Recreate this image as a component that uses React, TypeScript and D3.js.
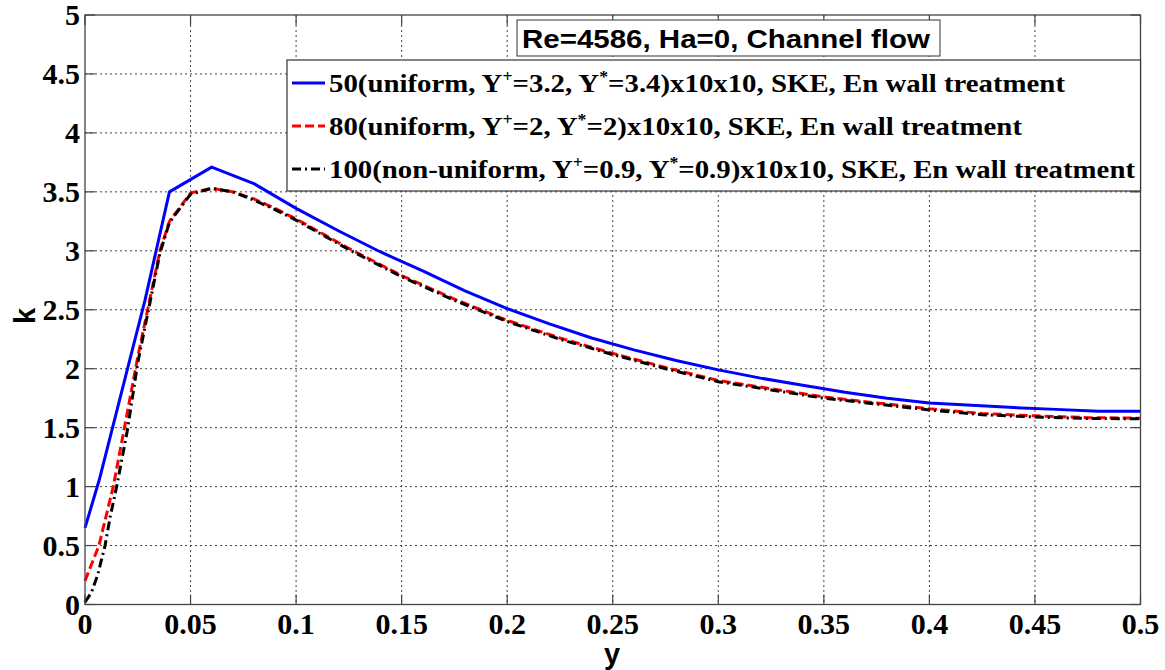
import React from "react";
import * as d3 from "d3";

const xTicks = [0, 0.05, 0.1, 0.15, 0.2, 0.25, 0.3, 0.35, 0.4, 0.45, 0.5];
const yTicks = [0, 0.5, 1, 1.5, 2, 2.5, 3, 3.5, 4, 4.5, 5];
const xTickLabels = ["0", "0.05", "0.1", "0.15", "0.2", "0.25", "0.3", "0.35", "0.4", "0.45", "0.5"];
const yTickLabels = ["0", "0.5", "1", "1.5", "2", "2.5", "3", "3.5", "4", "4.5", "5"];

const blueX = [0, 0.0068, 0.02, 0.0284, 0.04, 0.06, 0.08, 0.1, 0.12, 0.14, 0.16, 0.18, 0.2, 0.22, 0.24, 0.26, 0.28, 0.3, 0.32, 0.34, 0.36, 0.38, 0.4, 0.42, 0.44, 0.46, 0.48, 0.5];
const blueK = [0.65, 1.06, 1.99, 2.58, 3.5, 3.71, 3.57, 3.36, 3.17, 2.99, 2.83, 2.66, 2.51, 2.38, 2.26, 2.16, 2.07, 1.99, 1.92, 1.86, 1.8, 1.75, 1.71, 1.69, 1.67, 1.655, 1.64, 1.64];

const redX = [0, 0.0066, 0.0134, 0.025, 0.0355, 0.04, 0.05, 0.06, 0.07, 0.08, 0.09, 0.1, 0.125, 0.15, 0.175, 0.2, 0.225, 0.25, 0.275, 0.3, 0.325, 0.35, 0.375, 0.4, 0.425, 0.45, 0.475, 0.5];
const redK = [0.2, 0.5, 1.0, 2.1, 3.0, 3.25, 3.49, 3.53, 3.5, 3.44, 3.36, 3.27, 3.02, 2.79, 2.59, 2.41, 2.26, 2.13, 2.01, 1.9, 1.83, 1.76, 1.71, 1.66, 1.62, 1.6, 1.585, 1.58];

const blackX = [0, 0.003, 0.006, 0.0095, 0.012, 0.015, 0.02, 0.025, 0.0355, 0.04, 0.05, 0.06, 0.07, 0.08, 0.09, 0.1, 0.125, 0.15, 0.175, 0.2, 0.225, 0.25, 0.275, 0.3, 0.325, 0.35, 0.375, 0.4, 0.425, 0.45, 0.475, 0.5];
const blackK = [0.02, 0.1, 0.25, 0.5, 0.75, 1.0, 1.47, 2.05, 2.98, 3.24, 3.48, 3.53, 3.5, 3.43, 3.35, 3.26, 3.01, 2.78, 2.58, 2.4, 2.25, 2.12, 2.0, 1.89, 1.82, 1.75, 1.7, 1.65, 1.61, 1.59, 1.578, 1.575];

const seriesNames = ["50", "80", "100"];

const W = 1165;
const H = 670;
const L = 85, R = 1140.5, T = 15, B = 604.5;

export default function App() {
  const x = d3.scaleLinear().domain([0, 0.5]).range([L, R]);
  const y = d3.scaleLinear().domain([0, 5]).range([B, T]);
  const line = d3.line<[number, number]>().x((d) => x(d[0])).y((d) => y(d[1]));
  const mk = (xs: number[], ks: number[]) => line(xs.map((v, i) => [v, ks[i]] as [number, number])) || "";

  const serif = "'Liberation Serif', 'Times New Roman', serif";
  const sans = "'Liberation Sans', Arial, sans-serif";
  const gridColor = "#444";
  const axisColor = "#444";

  const legendRows = [
    { color: "#0000ff", dash: "none", y: 83, len: 736, a: "3.2", b: "3.4", pre: seriesNames[0] + "(uniform, " },
    { color: "#ff0000", dash: "9,4", y: 126, len: 693, a: "2", b: "2", pre: seriesNames[1] + "(uniform, " },
    { color: "#000000", dash: "9,4,2,4", y: 169, len: 806, a: "0.9", b: "0.9", pre: seriesNames[2] + "(non-uniform, " },
  ];

  return (
    <svg width={W} height={H} style={{ display: "block", position: "absolute", left: 0, top: 0, background: "#fff" }}>
      <rect x={0} y={0} width={W} height={H} fill="#fff" />
      {xTicks.slice(1, -1).map((t) => (
        <line key={"gx" + t} x1={x(t)} x2={x(t)} y1={T} y2={B} stroke={gridColor} strokeWidth={1} strokeDasharray="2,3" />
      ))}
      {yTicks.slice(1, -1).map((t) => (
        <line key={"gy" + t} x1={L} x2={R} y1={y(t)} y2={y(t)} stroke={gridColor} strokeWidth={1} strokeDasharray="2,3" />
      ))}
      {xTicks.map((t) => (
        <g key={"tx" + t}>
          <line x1={x(t)} x2={x(t)} y1={B} y2={B - 10} stroke={axisColor} strokeWidth={1.2} />
          <line x1={x(t)} x2={x(t)} y1={T} y2={T + 10} stroke={axisColor} strokeWidth={1.2} />
        </g>
      ))}
      {yTicks.map((t) => (
        <g key={"ty" + t}>
          <line x1={L} x2={L + 10} y1={y(t)} y2={y(t)} stroke={axisColor} strokeWidth={1.2} />
          <line x1={R} x2={R - 10} y1={y(t)} y2={y(t)} stroke={axisColor} strokeWidth={1.2} />
        </g>
      ))}
      <path d={mk(blueX, blueK)} fill="none" stroke="#0000ff" strokeWidth={3} strokeLinejoin="round" />
      <path d={mk(redX, redK)} fill="none" stroke="#ff0000" strokeWidth={3} strokeDasharray="9,4" />
      <path d={mk(blackX, blackK)} fill="none" stroke="#000000" strokeWidth={3} strokeDasharray="9,4,2,4" />
      <rect x={L} y={T} width={R - L} height={B - T} fill="none" stroke={axisColor} strokeWidth={1.3} />
      {xTicks.map((t, i) => (
        <text key={"lx" + t} x={x(t)} y={634} textAnchor="middle" fontFamily={serif} fontWeight="bold" fontSize={30}>
          {xTickLabels[i]}
        </text>
      ))}
      {yTicks.map((t, i) => (
        <text key={"ly" + t} x={80} y={y(t) + 10} textAnchor="end" fontFamily={serif} fontWeight="bold" fontSize={30}>
          {yTickLabels[i]}
        </text>
      ))}
      <text x={612} y={664} textAnchor="middle" fontFamily={sans} fontWeight="bold" fontSize={29}>y</text>
      <text transform="translate(35,316) rotate(-90)" textAnchor="middle" fontFamily={sans} fontWeight="bold" fontSize={29}>k</text>
      <rect x={517} y={20} width={423} height={36} fill="#fff" stroke="#333" strokeWidth={1} />
      <text x={522} y={48} fontFamily={sans} fontWeight="bold" fontSize={26} textLength={408} lengthAdjust="spacingAndGlyphs">
        Re=4586, Ha=0, Channel flow
      </text>
      <rect x={287} y={60} width={R - 287} height={131} fill="#fff" stroke="#333" strokeWidth={1.2} />
      {legendRows.map((r) => (
        <g key={r.pre}>
          <line x1={292} x2={325} y1={r.y} y2={r.y} stroke={r.color} strokeWidth={3} strokeDasharray={r.dash} />
          <text x={329} y={r.y + 9} fontFamily={serif} fontWeight="bold" fontSize={26} textLength={r.len} lengthAdjust="spacingAndGlyphs">
            {r.pre}Y
            <tspan dy={-10} fontSize={16}>+</tspan>
            <tspan dy={10}>={r.a}, Y</tspan>
            <tspan dy={-10} fontSize={16}>*</tspan>
            <tspan dy={10}>={r.b})x10x10, SKE, En wall treatment</tspan>
          </text>
        </g>
      ))}
    </svg>
  );
}
